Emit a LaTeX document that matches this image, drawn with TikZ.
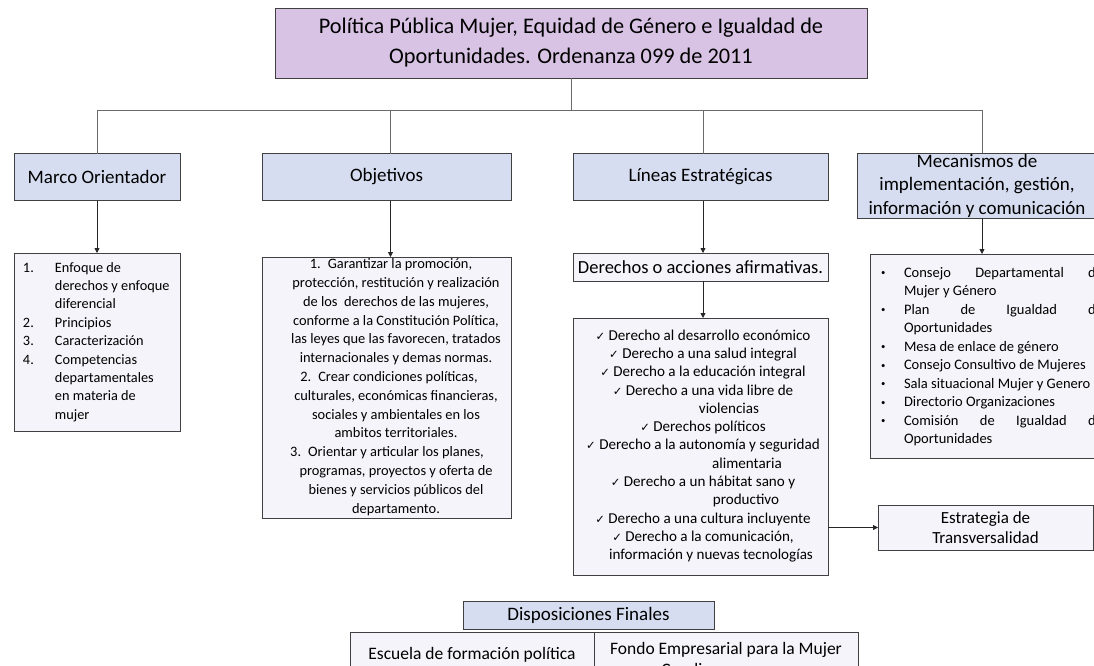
\documentclass[tikz,border=0pt]{standalone}
\usepackage{fontspec}
\setmainfont{Carlito}
\newfontfamily\symfont{DejaVu Sans}
\usetikzlibrary{arrows.meta}
\definecolor{titlefill}{HTML}{D8C3E5}
\definecolor{headfill}{HTML}{D6DDF0}
\definecolor{listfill}{HTML}{F5F4FA}
\definecolor{edgecol}{HTML}{404040}
\definecolor{wirecol}{HTML}{6A6A6A}
\newcommand\tickmark{{\symfont\fontsize{11.5}{11.5}\selectfont ✓}\ }
\newcommand\blt{\makebox[23pt][l]{\raisebox{1.5pt}{\scalebox{0.6}{•}}}}
\begin{document}
\begin{tikzpicture}[x=1pt,y=-1pt,
  box/.style={draw=edgecol, line width=0.9pt, inner sep=0pt, outer sep=0pt},
  head/.style={box, fill=headfill, font=\fontsize{19}{22}\selectfont},
  lst/.style={box, fill=listfill},
  txt/.style={inner sep=0pt, outer sep=0pt},
  wire/.style={draw=wirecol, line width=0.8pt},
  arr/.style={draw=black!85, line width=0.8pt, -{Triangle[length=5pt,width=5pt]}},
]
\useasboundingbox[fill=white] (0,0) rectangle (1094,666);

% title
\node[box, fill=titlefill, minimum width=592pt, minimum height=70pt, align=center,
      font=\fontsize{22.3}{30}\selectfont] (title) at (571,43)
  {Política Pública Mujer, Equidad de Género e Igualdad de\\Oportunidades. Ordenanza 099 de 2011};

% headers
\node[head, minimum width=166pt, minimum height=47pt] (marco) at (97,177) {Marco Orientador};
\node[head, minimum width=249pt, minimum height=47pt] (obj) at (386.5,177) {Objetivos};
\node[head, minimum width=255pt, minimum height=47pt] (lin) at (700.5,177) {Líneas Estratégicas};
\node[head, minimum width=240pt, minimum height=65pt, align=center,
      font=\fontsize{19}{23.5}\selectfont] (mec) at (977,185.5)
  {Mecanismos de\\implementación, gestión,\\información y comunicación};

% tree
\coordinate (hub) at (571,110);
\draw[wire] (title.south) -- (hub);
\draw[wire] (marco.north) |- (hub);
\draw[wire] ([xshift=4pt]obj.north) |- (hub);
\draw[wire] ([xshift=2.5pt]lin.north) |- (hub);
\draw[wire] ([xshift=5pt]mec.north) |- (hub);

% Marco list
\node[lst, minimum width=166pt, minimum height=178pt] (mlist) at (97,342) {};
\node[txt, anchor=west, font=\fontsize{14.3}{18.4}\selectfont] (mtext) at (23,342)
  {\begin{tabular}{@{}p{32pt}@{}l@{}}
   1. & Enfoque de\\ & derechos y enfoque\\ & diferencial\\
   2. & Principios\\ 3. & Caracterización\\ 4. & Competencias\\
   & departamentales\\ & en materia de\\ & mujer\end{tabular}};

% Objetivos list
\node[lst, minimum width=249pt, minimum height=261pt] (olist) at (386.5,387.5) {};
\node[txt, align=center, font=\fontsize{14.4}{18.8}\selectfont] (otext) at (396,387)
  {\hspace*{-10pt}1.\hspace{7pt}Garantizar la promoción,\\
   protección, restitución y realización\\
   de los\ \ derechos de las mujeres,\\
   conforme a la Constitución Política,\\
   las leyes que las favorecen, tratados\\
   internacionales y demas normas.\\
   \hspace*{-14pt}2.\hspace{7pt}Crear condiciones políticas,\\
   culturales, económicas financieras,\\
   sociales y ambientales en los\\
   ambitos territoriales.\\
   \hspace*{-18pt}3.\hspace{7pt}Orientar y articular los planes,\\
   programas, proyectos y oferta de\\
   bienes y servicios públicos del\\
   departamento.};

% Lineas branch
\node[lst, minimum width=255pt, minimum height=28pt, font=\fontsize{18.5}{22}\selectfont] (der) at (700.5,267)
  {Derechos o acciones afirmativas.};
\node[lst, minimum width=255pt, minimum height=257pt] (rights) at (700.5,446.5) {};
\node[txt, align=center, font=\fontsize{15.1}{18.3}\selectfont] (rtext) at (703,446)
  {\tickmark Derecho al desarrollo económico\\
   \tickmark Derecho a una salud integral\\
   \tickmark Derecho a la educación integral\\
   \tickmark Derecho a una vida libre de\\
   \hspace*{52pt}violencias\\
   \tickmark Derechos políticos\\
   \tickmark Derecho a la autonomía y seguridad\\
   \hspace*{88pt}alimentaria\\
   \tickmark Derecho a un hábitat sano y\\
   \hspace*{86pt}productivo\\
   \tickmark Derecho a una cultura incluyente\\
   \tickmark Derecho a la comunicación,\\
   \hspace*{16pt}información y nuevas tecnologías};

\node[lst, minimum width=215pt, minimum height=45pt, align=center,
      font=\fontsize{17}{20}\selectfont] (estr) at (985.5,527.5) {Estrategia de\\Transversalidad};

% Mecanismos list
\node[lst, minimum width=235pt, minimum height=204pt] (meclist) at (987.5,356) {};
\node[txt, anchor=west, align=left, font=\fontsize{14.5}{18.5}\selectfont] (mectext) at (881,356.5)
  {\blt\hbox to 199pt{Consejo\hfill Departamental\hfill de}\\
   \hspace*{23pt}Mujer y Género\\
   \blt\hbox to 199pt{Plan\hfill de\hfill Igualdad\hfill de}\\
   \hspace*{23pt}Oportunidades\\
   \blt Mesa de enlace de género\\
   \blt Consejo Consultivo de Mujeres\\
   \blt Sala situacional Mujer y Genero\\
   \blt Directorio Organizaciones\\
   \blt\hbox to 199pt{Comisión\hfill de\hfill Igualdad\hfill de}\\
   \hspace*{23pt}Oportunidades};

% arrows
\draw[arr] (marco.south) -- (marco.south |- mlist.north);
\draw[arr] ([xshift=4pt]obj.south) -- ([xshift=4pt]obj.south |- olist.north);
\draw[arr] ([xshift=2.5pt]lin.south) -- ([xshift=2.5pt]lin.south |- der.north);
\draw[arr] ([xshift=5pt]mec.south) -- ([xshift=5pt]mec.south |- meclist.north);
\draw[arr] ([xshift=2.5pt]der.south) -- ([xshift=2.5pt]der.south |- rights.north);
\draw[arr] (rights.east |- estr.west) -- (estr.west);

% final dispositions
\node[head, minimum width=251pt, minimum height=28pt] (disp) at (588.5,615) {Disposiciones Finales};
\node[lst, minimum width=244pt, minimum height=46pt, font=\fontsize{17.5}{21}\selectfont] (esc) at (472,655)
  {Escuela de formación política};
\node[lst, minimum width=264pt, minimum height=56pt, align=center, font=\fontsize{17.5}{21}\selectfont] (fondo) at (726,660)
  {Fondo Empresarial para la Mujer\\Cundinamarquesa};
\end{tikzpicture}
\end{document}
